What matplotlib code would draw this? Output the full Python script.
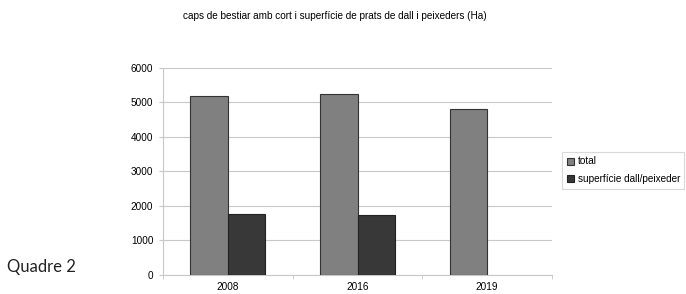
import matplotlib
matplotlib.use("Agg")
import matplotlib.pyplot as plt
import numpy as np

years = ["2008", "2016", "2019"]
total = [5170, 5220, 4800]
superficie = [1760, 1730, np.nan]
series_labels = ["total", "superfície dall/peixeder"]
yticks = [0, 1000, 2000, 3000, 4000, 5000, 6000]
title = "caps de bestiar amb cort i superfície de prats de dall i peixeders (Ha)"

plt.rcParams['font.family'] = ['Liberation Sans', 'DejaVu Sans']

fig = plt.figure(figsize=(6.86, 2.94), dpi=100)
ax = fig.add_axes([163/686, 1-275/294, (552-163)/686, (275-67.5)/294])

x = np.arange(len(years))
w = 0.29
b1 = ax.bar(x - w/2, total, w, color="#808080", edgecolor="#333333", linewidth=0.8, label=series_labels[0], zorder=3)
b2 = ax.bar(x + w/2, superficie, w, color="#383838", edgecolor="#222222", linewidth=0.8, label=series_labels[1], zorder=3)

fs = 7.2
ax.set_xlim(-0.5, len(years) - 0.5)
ax.set_ylim(0, 6000)
ax.set_yticks(yticks)
ax.set_yticklabels([str(v) for v in yticks], fontsize=fs)
ax.yaxis.grid(True, color="#c8c8c8", linewidth=0.8, zorder=0)
ax.set_xticks(x)
ax.set_xticklabels(years, fontsize=fs)
ax.tick_params(axis='x', length=0, pad=5)
ax.tick_params(axis='y', length=3, color="#c8c8c8", pad=4)
ax.set_xticks(np.arange(-0.5, len(years)), minor=True)
ax.tick_params(axis='x', which='minor', length=3, color="#c8c8c8")
for s in ["top", "right"]:
    ax.spines[s].set_visible(False)
for s in ["left", "bottom"]:
    ax.spines[s].set_color("#c8c8c8")
    ax.spines[s].set_linewidth(0.8)

leg = fig.legend(handles=[b1, b2], loc="upper left", bbox_to_anchor=(562/686, 1-152/294),
                 fontsize=fs, frameon=True, fancybox=False, edgecolor="#d0d0d0",
                 handlelength=0.7, handleheight=0.7, handletextpad=0.4,
                 borderpad=0.45, labelspacing=0.75, borderaxespad=0)
leg.get_frame().set_linewidth(0.8)

fig.text(335/686, 1-16/294, title, ha="center", va="center", fontsize=fs)
fig.text(7/686, 1-267/294, "Quadre 2", ha="left", va="center", fontsize=12,
         family=["Lato", "DejaVu Sans"], color="#222222")

fig.savefig("out.png", dpi=100)
